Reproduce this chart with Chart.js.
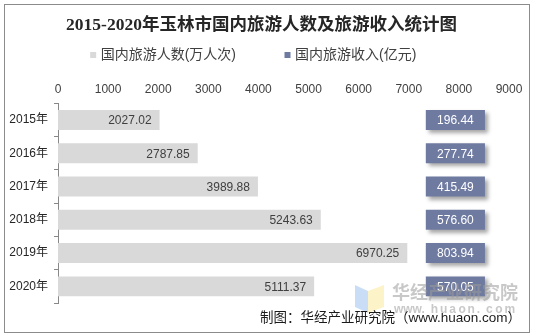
<!DOCTYPE html>
<html>
<head>
<meta charset="utf-8">
<script src="https://cdn.jsdelivr.net/npm/chart.js@4.4.1/dist/chart.umd.min.js"></script>
<style>
  html, body { margin: 0; padding: 0; background: #fff; }
</style>
</head>
<body>
<canvas id="myChart" width="536" height="336"></canvas>
<script>
const years = ['2015年', '2016年', '2017年', '2018年', '2019年', '2020年'];
const visitors = [2027.02, 2787.85, 3989.88, 5243.63, 6970.25, 5111.37]; // 万人次
const revenue = [196.44, 277.74, 415.49, 576.60, 803.94, 570.05];        // 亿元
const xMax = 9000;
const xStep = 1000;

const seriesNames = ['国内旅游人数(万人次)', '国内旅游收入(亿元)'];
const titleText = '2015-2020年玉林市国内旅游人数及旅游收入统计图';
const sourceText = '制图：华经产业研究院（www.huaon.com）';

// revenue is shown as a column of equal badges to the right of the bars
const badgeSpan = [7340, 8520];

const FONT = '"Liberation Sans", "Noto Sans CJK SC", sans-serif';
Chart.defaults.font.family = FONT;

const LEGEND_GAP = 51;

// legend items sit far apart; pull the legend row up so it doesn't push the plot down
const legendRow = {
  id: 'legendRow',
  afterLayout(chart) {
    const lg = chart.legend;
    const h = lg.bottom - lg.top;
    lg.top = 55 - 7 - LEGEND_GAP;
    lg.bottom = lg.top + h;
  }
};

const badgeShadow = {
  id: 'badgeShadow',
  beforeDatasetDraw(chart, args) {
    if (args.index !== 1) return;
    const ctx = chart.ctx;
    ctx.save();
    ctx.shadowColor = 'rgba(0,0,0,0.35)';
    ctx.shadowBlur = 4;
    ctx.shadowOffsetX = 3;
    ctx.shadowOffsetY = 3;
  },
  afterDatasetDraw(chart, args) {
    if (args.index === 1) chart.ctx.restore();
  }
};

const valueLabels = {
  id: 'valueLabels',
  afterDatasetsDraw(chart) {
    const ctx = chart.ctx;
    ctx.save();
    ctx.font = '12px ' + FONT;
    ctx.textBaseline = 'middle';
    chart.getDatasetMeta(0).data.forEach((bar, i) => {
      ctx.fillStyle = '#404040';
      ctx.textAlign = 'right';
      ctx.fillText(visitors[i].toFixed(2), bar.x - 8, bar.y + 1);
    });
    chart.getDatasetMeta(1).data.forEach((bar, i) => {
      ctx.fillStyle = '#ffffff';
      ctx.textAlign = 'center';
      ctx.fillText(revenue[i].toFixed(2), (bar.x + bar.base) / 2, bar.y + 1);
    });
    ctx.restore();
  }
};

const decorations = {
  id: 'decorations',
  afterDraw(chart) {
    const ctx = chart.ctx;
    ctx.save();
    // frame
    ctx.strokeStyle = '#8c8c8c';
    ctx.lineWidth = 1;
    ctx.strokeRect(4.5, 4.5, 525, 328);

    // title
    ctx.fillStyle = '#262626';
    ctx.font = 'bold 17.5px "Liberation Serif", "Noto Sans CJK SC", serif';
    ctx.textAlign = 'center';
    ctx.textBaseline = 'middle';
    ctx.fillText(titleText, 261.5, 25);

    // watermark
    ctx.globalAlpha = 0.75;
    ctx.fillStyle = '#b7d3f3';
    ctx.beginPath();
    ctx.moveTo(355, 285); ctx.lineTo(368, 291); ctx.lineTo(368, 313); ctx.lineTo(355, 307);
    ctx.closePath(); ctx.fill();
    ctx.fillStyle = '#fbefb6';
    ctx.beginPath();
    ctx.moveTo(368, 291); ctx.lineTo(384, 285); ctx.lineTo(384, 307); ctx.lineTo(368, 313);
    ctx.closePath(); ctx.fill();
    ctx.globalAlpha = 0.55;
    ctx.fillStyle = '#9a9a9a';
    ctx.textAlign = 'left';
    ctx.font = 'bold 18px "Noto Sans CJK SC", sans-serif';
    ctx.fillText('华经产业研究院', 392, 292);
    ctx.font = 'bold 12px ' + FONT;
    const url = 'www.huaon.com';
    for (let i = 0; i < url.length; i++) {
      ctx.fillText(url[i], 394 + i * 9.2, 310);
    }
    ctx.globalAlpha = 1;

    // source line
    ctx.fillStyle = '#1a1a1a';
    ctx.font = '13.5px ' + FONT;
    ctx.textAlign = 'right';
    ctx.fillText(sourceText, 521, 318);
    ctx.restore();
  }
};

new Chart(document.getElementById('myChart').getContext('2d'), {
  type: 'bar',
  data: {
    labels: years,
    datasets: [
      {
        label: seriesNames[0],
        data: visitors,
        backgroundColor: '#d9d9d9',
        grouped: false,
        barPercentage: 0.6,
        categoryPercentage: 1
      },
      {
        label: seriesNames[1],
        data: revenue.map(() => badgeSpan),
        backgroundColor: '#6f7aa1',
        grouped: false,
        barPercentage: 0.6,
        categoryPercentage: 1
      }
    ]
  },
  options: {
    indexAxis: 'y',
    responsive: false,
    animation: false,
    devicePixelRatio: 1,
    layout: { padding: { top: 0, right: 27, bottom: 33, left: 0 } },
    scales: {
      x: {
        position: 'top',
        min: 0,
        max: xMax,
        ticks: {
          stepSize: xStep,
          padding: 7,
          color: '#404040',
          font: { size: 12 },
          callback: v => String(v)
        },
        grid: { display: false, drawTicks: false },
        border: { display: false }
      },
      y: {
        grid: { drawOnChartArea: false, drawTicks: true, tickLength: 4, color: '#888888', offset: true },
        border: { display: true, color: '#888888' },
        ticks: { padding: 6, color: '#262626', font: { size: 12 } },
        afterFit(s) { s.width = 58; }
      }
    },
    plugins: {
      title: { display: false },
      tooltip: { enabled: false },
      legend: {
        position: 'top',
        labels: {
          usePointStyle: true,
          pointStyle: 'rect',
          boxWidth: 1,
          boxHeight: 6,
          padding: LEGEND_GAP,
          color: '#404040',
          font: { size: 14 }
        }
      }
    }
  },
  plugins: [legendRow, badgeShadow, valueLabels, decorations]
});
</script>
</body>
</html>
